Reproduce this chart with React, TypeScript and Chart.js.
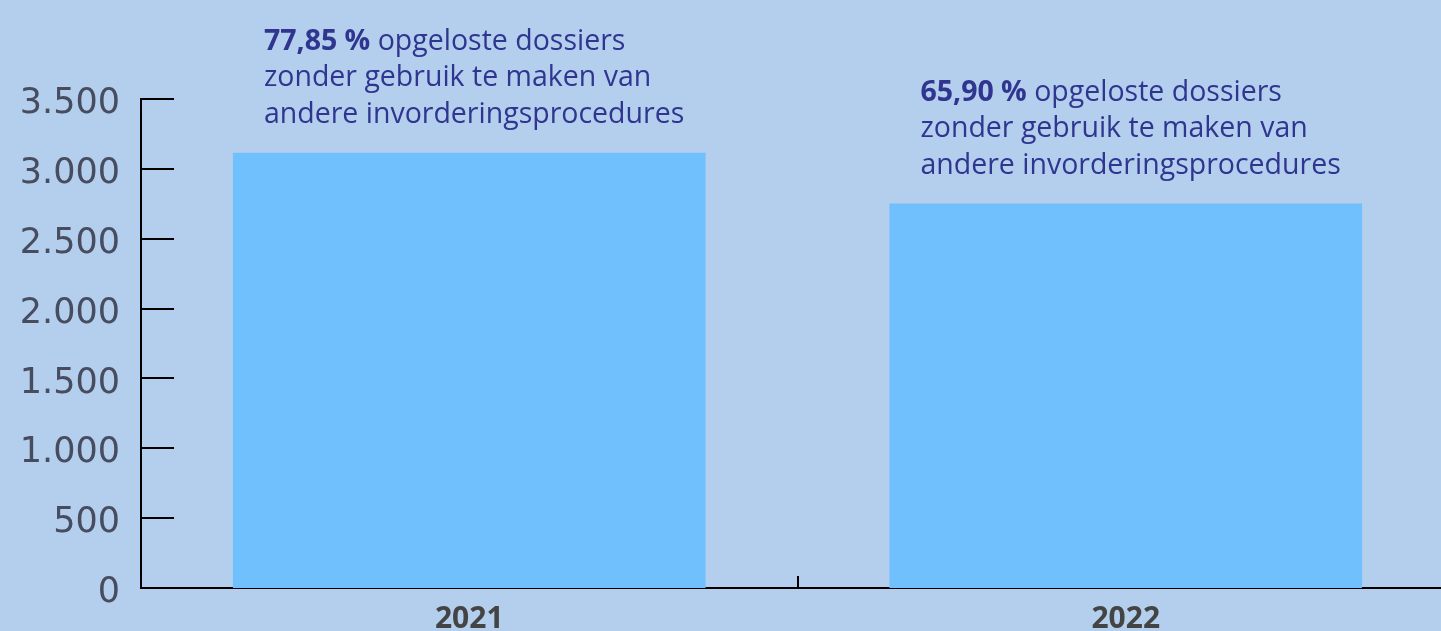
import React, { useEffect, useRef } from "react";
import { Chart, registerables } from "chart.js";
Chart.register(...registerables);

const categories = ["2021", "2022"];
const values = [3115, 2752];
const percentLabels = ["77,85 %", "65,90 %"];
const noteFirstLine = "opgeloste dossiers";
const noteOtherLines = ["zonder gebruik te maken van", "andere invorderingsprocedures"];
const yMax = 3500;
const yStep = 500;

const BG = "#b3cfed";
const BAR = "#70c0fd";
const NOTE = "#30358f";
const YTEXT = "#474c5f";

const CANVAS_W = 1470;
const CANVAS_H = 631;

function fmt(v: number): string {
  return String(v).replace(/\B(?=(\d{3})+(?!\d))/g, ".");
}

const tickPlugin = {
  id: "innerTicks",
  afterDraw(chart: any) {
    const ctx = chart.ctx;
    const y = chart.scales.y;
    const x = chart.scales.x;
    const area = chart.chartArea;
    ctx.save();
    ctx.strokeStyle = "#000";
    ctx.lineWidth = 2;
    y.ticks.forEach((t: any) => {
      const py = Math.round(y.getPixelForValue(t.value));
      ctx.beginPath();
      ctx.moveTo(area.left, py);
      ctx.lineTo(area.left + 33, py);
      ctx.stroke();
    });
    for (let i = 1; i < categories.length; i++) {
      const px = Math.round((x.getPixelForTick(i - 1) + x.getPixelForTick(i)) / 2);
      ctx.beginPath();
      ctx.moveTo(px, area.bottom);
      ctx.lineTo(px, area.bottom - 12);
      ctx.stroke();
    }
    ctx.restore();
  },
};

const notePlugin = {
  id: "notes",
  afterDatasetsDraw(chart: any) {
    const ctx = chart.ctx;
    const meta = chart.getDatasetMeta(0);
    ctx.save();
    ctx.fillStyle = NOTE;
    ctx.textBaseline = "alphabetic";
    ctx.textAlign = "left";
    const lh = 36.5;
    meta.data.forEach((bar: any, i: number) => {
      const left = bar.x - bar.width / 2 + 31;
      const base = bar.y - 103;
      ctx.font = "bold 28.5px 'Open Sans'";
      const pct = percentLabels[i];
      ctx.fillText(pct, left, base);
      const w = ctx.measureText(pct + " ").width;
      ctx.font = "28.5px 'Open Sans'";
      ctx.fillText(noteFirstLine, left + w, base);
      noteOtherLines.forEach((line, j) => {
        ctx.fillText(line, left, base + lh * (j + 1));
      });
    });
    ctx.restore();
  },
};

export default function App() {
  const ref = useRef<HTMLCanvasElement>(null);
  useEffect(() => {
    if (!ref.current) return;
    const chart = new Chart(ref.current, {
      type: "bar",
      data: {
        labels: categories,
        datasets: [
          {
            data: values,
            backgroundColor: BAR,
            borderWidth: 0,
            barPercentage: 0.72,
            categoryPercentage: 1,
          },
        ],
      },
      options: {
        responsive: false,
        animation: false,
        devicePixelRatio: 1,
        layout: { padding: { top: 99, right: 16, left: 0, bottom: 0 } },
        plugins: { legend: { display: false }, tooltip: { enabled: false } },
        scales: {
          x: {
            grid: { display: false, drawTicks: false },
            border: { display: true, color: "#000", width: 2 },
            ticks: {
              color: "#444",
              font: { family: "'Open Sans'", size: 30, weight: "bold" },
              padding: 13,
            },
            afterFit: (s: any) => {
              s.height = 43;
            },
          },
          y: {
            min: 0,
            max: yMax,
            grid: { display: false, drawTicks: false },
            border: { display: true, color: "#000", width: 2 },
            ticks: {
              stepSize: yStep,
              color: YTEXT,
              font: { family: "'DejaVu Sans'", size: 35 },
              padding: 21,
              labelOffset: 5,
              callback: (v: any) => fmt(Number(v)),
            },
            afterFit: (s: any) => {
              s.width = 141;
            },
          },
        },
      },
      plugins: [tickPlugin, notePlugin],
    });
    return () => chart.destroy();
  }, []);
  return (
    <div
      style={{
        position: "fixed",
        left: 0,
        top: 0,
        width: 1441,
        height: 631,
        overflow: "hidden",
        background: BG,
      }}
    >
      <canvas ref={ref} width={CANVAS_W} height={CANVAS_H} style={{ display: "block", width: CANVAS_W, height: CANVAS_H }} />
    </div>
  );
}
